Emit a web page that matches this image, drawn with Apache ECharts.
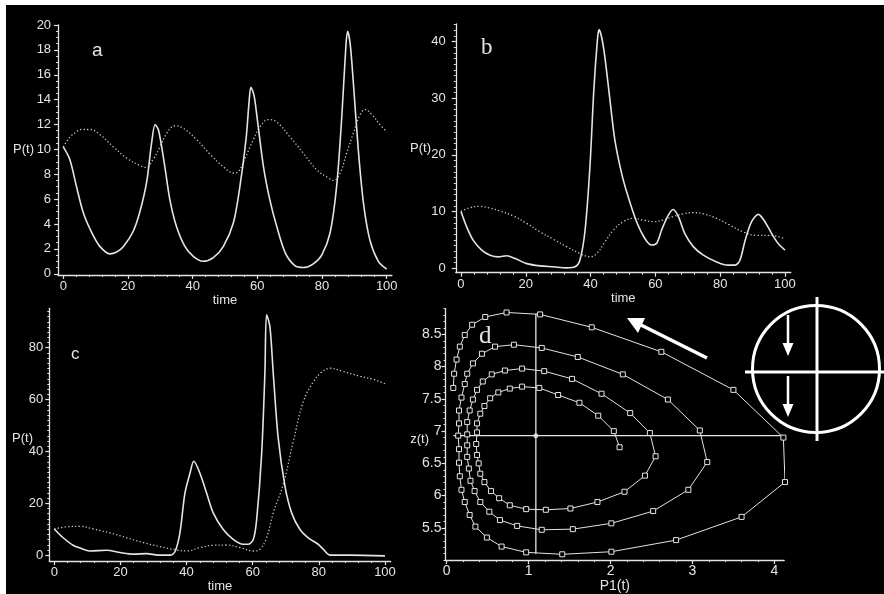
<!DOCTYPE html>
<html>
<head>
<meta charset="utf-8">
<script src="https://cdn.jsdelivr.net/npm/echarts@6/dist/echarts.min.js"></script>
<style>
html,body{margin:0;padding:0;background:#000;}
#chart{width:884px;height:594px;}
</style>
</head>
<body>
<div id="chart"></div>
<script>
// ---------- DATA ----------
// Panel a : P(t) vs time
const aSolid = [[0,10.2],[2,9.2],[4.1,7.0],[6.2,4.9],[8.8,3.3],[11.3,2.2],[14.4,1.6],[16.5,1.75],[18.6,2.2],[21.6,3.4],[23.7,5.0],[25.8,7.4],[27.3,10.5],[28.4,12.0],[29.5,11.5],[31.4,8.6],[33,5.9],[35,3.8],[37.6,2.2],[40.2,1.4],[43.1,1.0],[46.4,1.3],[49.5,2.2],[52.6,4.1],[54.6,7.0],[56.5,10.8],[57.5,14.0],[58.0,15.0],[59,14.3],[60,12.4],[61.9,8.6],[63.9,5.9],[66,3.8],[68.6,1.7],[71.6,0.65],[74.2,0.5],[77.3,0.8],[79.9,1.5],[82.5,3.3],[84.5,7.0],[86.1,12.6],[87.4,18.4],[87.9,19.5],[88.7,18.5],[89.7,15.3],[91.2,10.0],[92.8,5.7],[94.8,2.7],[97.4,1.0],[100,0.37]];
const aDotted = [[0,10.2],[2.1,11.0],[4,11.4],[5.7,11.6],[8.2,11.6],[11.3,11.2],[15.5,10.2],[19.6,9.3],[23.7,8.7],[25.5,8.55],[27.8,9.2],[29.9,10.2],[32,11.3],[34.5,11.9],[37.1,11.7],[41.2,10.8],[45.4,9.6],[49.5,8.6],[52.6,8.1],[54.1,8.2],[56.2,9.3],[58.8,10.8],[60.8,11.8],[63.4,12.4],[66,12.2],[70.1,11.0],[74.2,9.7],[78.4,8.35],[82,7.7],[83.5,7.5],[85.6,8.1],[87.6,9.7],[89.7,11.3],[91.8,12.8],[93.3,13.2],[95.4,12.8],[97.9,12.0],[100,11.4]];
// Panel b
const bSolid = [[0,10.0],[1.75,7.3],[3.8,4.9],[6.4,3.2],[9,2.3],[11.5,2.0],[14.1,2.2],[16.7,1.7],[20.3,0.8],[24.4,0.4],[28.5,0.24],[32.6,0.06],[35.2,0.24],[36.7,1.4],[38.3,6.7],[39.8,17.9],[41,31.4],[42.1,40.2],[42.6,42.1],[43.4,40.8],[44.4,37.3],[46,29.6],[47.5,22.6],[49.6,16.7],[51.6,12.6],[54.2,8.2],[56.8,5.2],[58.8,4.1],[60.4,4.4],[61.9,6.7],[64,9.35],[65.5,10.35],[67.1,9.1],[69.1,6.1],[71.7,3.8],[74.8,2.3],[78.9,1.1],[82.5,0.53],[84.6,0.53],[86.1,1.4],[87.7,4.9],[89.7,8.2],[91.8,9.5],[93.8,8.2],[95.9,6.1],[97.9,4.35],[100,3.2]];
const bDotted = [[0,10.0],[2.8,10.7],[5.9,10.9],[9,10.6],[12,10.1],[16.2,9.2],[20.3,7.9],[24.4,6.4],[28.5,5.1],[32.6,3.8],[36.7,2.6],[39.8,2.0],[41.9,2.6],[44.4,4.6],[47,6.7],[50.1,8.2],[53.2,8.8],[56.3,8.5],[59.4,8.2],[62.4,8.5],[65.5,9.1],[68.6,9.6],[71.7,9.8],[74.8,9.6],[78.9,8.8],[83,7.6],[87.1,6.4],[91.3,5.8],[95.4,5.8],[100,5.2]];
// Panel c
const cSolid = [[0,10.1],[2.7,6.7],[5.7,3.8],[8.8,2.3],[10.8,1.6],[15.8,1.9],[19.9,1.0],[23.9,0.4],[27.9,0.6],[31.5,0],[35,0],[36.5,1.3],[38,8.6],[39.5,23.8],[41,31.4],[42.2,36.2],[44.1,31.4],[46.1,23.8],[48.1,16.2],[51.1,9.9],[54.1,6.1],[57.1,4.2],[58.7,4.2],[60.2,6.1],[61.2,13.7],[62.7,38.9],[63.7,70.5],[64.2,92.7],[65.2,88.2],[66.2,70.5],[67.7,45.3],[69.8,26.3],[71.8,16.2],[74.3,9.9],[76.8,6.7],[79.8,4.2],[81.3,2.3],[83.4,0],[89.4,0],[100,-0.3]];
const cDotted = [[0,10.1],[3.7,10.9],[7.8,11.1],[11.8,10.1],[16.8,8.6],[21.9,6.7],[27,4.8],[32,3.3],[37,2.0],[40,1.6],[44.1,2.9],[48.1,3.8],[52.1,3.9],[56.2,2.9],[60.2,1.6],[62.2,2.3],[64.2,6.7],[66.2,16.2],[69.3,27.6],[72.3,44],[75.3,59.2],[78.3,66.8],[80.8,70.5],[83.4,72.1],[87.4,70.8],[92.4,69],[96.5,67.8],[100,66.1]];
// Panel d : phase portrait z(t) vs P1(t)
const dLoop1 = [[2.11,6.75],[2.04,7.00],[1.85,7.24],[1.62,7.44],[1.36,7.56],[1.13,7.67],[0.92,7.69],[0.77,7.66],[0.63,7.60],[0.53,7.51],[0.46,7.39],[0.41,7.27],[0.37,7.12],[0.37,6.98],[0.36,6.80],[0.37,6.63],[0.39,6.50],[0.41,6.34],[0.46,6.21],[0.54,6.07],[0.64,5.96],[0.77,5.85],[0.97,5.79],[1.21,5.78],[1.51,5.80],[1.84,5.90],[2.17,6.06],[2.42,6.31],[2.55,6.61],[2.48,6.97]];
const dLoop2 = [[2.24,7.28],[1.89,7.58],[1.53,7.81],[1.19,7.93],[0.92,7.97],[0.71,7.94],[0.55,7.88],[0.44,7.77],[0.37,7.64],[0.32,7.49],[0.28,7.32],[0.25,7.14],[0.25,6.95],[0.25,6.78],[0.25,6.60],[0.27,6.42],[0.29,6.23],[0.34,6.07],[0.41,5.90],[0.52,5.75],[0.65,5.62],[0.86,5.53],[1.16,5.47],[1.54,5.48],[2.01,5.57],[2.52,5.76],[2.95,6.09],[3.18,6.52],[3.09,7.01]];
const dLoop3 = [[2.70,7.49],[2.15,7.88],[1.60,8.15],[1.16,8.29],[0.82,8.34],[0.59,8.31],[0.43,8.20],[0.32,8.05],[0.25,7.89],[0.22,7.73],[0.18,7.52],[0.15,7.32],[0.15,7.12],[0.14,6.93],[0.15,6.72],[0.15,6.51],[0.16,6.30],[0.18,6.09],[0.22,5.90],[0.28,5.70],[0.35,5.52],[0.49,5.35],[0.67,5.21],[0.97,5.12],[1.41,5.09],[2.01,5.13],[2.80,5.31],[3.60,5.67],[4.13,6.21],[4.11,6.90]];
const dLoop4 = [[3.50,7.64],[2.62,8.23],[1.77,8.61],[1.14,8.81],[0.73,8.84],[0.47,8.77],[0.31,8.65],[0.22,8.49],[0.16,8.31],[0.12,8.11],[0.09,7.89],[0.08,7.67]];
const dCrossH = [[0.08,6.93],[4.11,6.93]];
const dCrossV = [[1.088,5.1],[1.088,8.82]];
const dCenter = [[1.088,6.93]];

// tick labels
const aXLabels = [0,20,40,60,80,100];
const aYLabels = [0,2,4,6,8,10,12,14,16,18,20];
const bXLabels = [0,20,40,60,80,100];
const bYLabels = [0,10,20,30,40];
const cXLabels = [0,20,40,60,80,100];
const cYLabels = [0,20,40,60,80];
const dXLabels = [0,1,2,3,4];
const dYLabels = [5.5,6,6.5,7,7.5,8,8.5];

// ---------- STYLE / LAYOUT ----------
const FG = '#e4e4e4';
const DOT = '#c4c4c4';
const FONT = 'Liberation Sans';

function steps(from, to, step){
  const r=[]; for(let i=0;;i++){ const v=+(from+i*step).toFixed(4); if(v>to+1e-9) break; r.push(v);} return r;
}
function axisPair(dim, gi, min, max, labels, minorFrom, minorTo, minorStep, margin, fs){
  const base = {type:'value', gridIndex:gi, min:min, max:max, scale:true,
    position: dim==='x'?'bottom':'left', splitLine:{show:false}};
  const main = Object.assign({}, base, {
    axisLine:{show:true, onZero:false, lineStyle:{color:FG, width:1.3}},
    axisTick:{show:true, customValues:labels, length:4, lineStyle:{color:FG, width:1.2}},
    axisLabel:{show:true, customValues:labels, margin:margin, color:FG, fontSize:fs, fontFamily:FONT}
  });
  const minor = Object.assign({}, base, {
    axisLine:{show:false, onZero:false},
    axisTick:{show:true, customValues:steps(minorFrom, minorTo, minorStep), length:2, lineStyle:{color:FG, width:1}},
    axisLabel:{show:false}
  });
  return [main, minor];
}

const grids = [
  {left:58.1, top:25, width:333.8, height:250},
  {left:455.8, top:24, width:335, height:248.7},
  {left:49.3, top:308.3, width:341.3, height:257},
  {left:445.5, top:308.6, width:338.7, height:256.5}
];

const xAxes = [].concat(
  axisPair('x',0,-1.6,101.6,aXLabels,0,100,4,5,13),
  axisPair('x',1,-1.6,101.8,bXLabels,0,100,4,5,13),
  axisPair('x',2,-1.5,101.7,cXLabels,0,100,4,5,13),
  axisPair('x',3,-0.015,4.12,dXLabels,0,4.1,0.2,4,14)
);
const yAxes = [].concat(
  axisPair('y',0,-0.1,20,aYLabels,0,20,0.5,7,13),
  axisPair('y',1,-0.8,43.1,bYLabels,0,43,1,10,13),
  axisPair('y',2,-2.3,95.2,cYLabels,0,95,2,6,13),
  axisPair('y',3,5,8.9,dYLabels,5,8.9,0.1,4,14)
);
// x-axis names
const xNames = ['time','time','time','P1(t)'];
const xGaps = [10,11,11,13];
xNames.forEach((n,i)=>{
  xAxes[2*i].name = n; xAxes[2*i].nameLocation='middle'; xAxes[2*i].nameGap = xGaps[i];
  xAxes[2*i].nameTextStyle = {color:FG, fontSize:i===3?14:13, fontFamily:FONT};
});

function solid(data, gi){
  return {type:'line', xAxisIndex:2*gi, yAxisIndex:2*gi, data:data, showSymbol:false,
    smooth:0.3, lineStyle:{color:FG, width:1.6}, silent:true};
}
function dotted(data, gi){
  return {type:'line', xAxisIndex:2*gi, yAxisIndex:2*gi, data:data, showSymbol:false,
    smooth:0.4, lineStyle:{color:DOT, width:1.3, type:[1.3,2.2]}, silent:true};
}
const trajectory = [].concat(dLoop1, dLoop2, dLoop3, dLoop4);

const series = [
  dotted(aDotted,0), solid(aSolid,0),
  dotted(bDotted,1), solid(bSolid,1),
  dotted(cDotted,2), solid(cSolid,2),
  {type:'line', xAxisIndex:6, yAxisIndex:6, data:dCrossH, showSymbol:false, lineStyle:{color:FG,width:1.3}, silent:true},
  {type:'line', xAxisIndex:6, yAxisIndex:6, data:dCrossV, showSymbol:false, lineStyle:{color:FG,width:1.3}, silent:true},
  {type:'scatter', xAxisIndex:6, yAxisIndex:6, data:dCenter, symbol:'circle', symbolSize:5, itemStyle:{color:FG}, silent:true},
  {type:'line', xAxisIndex:6, yAxisIndex:6, data:trajectory, symbol:'rect', symbolSize:5, showAllSymbol:true, clip:false,
    lineStyle:{color:FG,width:1}, itemStyle:{color:'#000', borderColor:FG, borderWidth:1}, silent:true}
];

// decorative annotations
function arrowDown(x, y1, y2){
  return [
    {type:'line', shape:{x1:x,y1:y1,x2:x,y2:y2-11}, style:{stroke:'#fff', lineWidth:2.5}},
    {type:'polygon', shape:{points:[[x-5.5,y2-13],[x+5.5,y2-13],[x,y2]]}, style:{fill:'#fff'}}
  ];
}
const graphics = [
  {type:'rect', shape:{x:0,y:0,width:884,height:5}, style:{fill:'#fff'}},
  {type:'rect', shape:{x:0,y:0,width:6,height:594}, style:{fill:'#fff'}},
  {type:'text', left:92, top:41, style:{text:'a', fill:FG, font:'19px "Liberation Sans"'}},
  {type:'text', left:481, top:36, style:{text:'b', fill:FG, font:'23px "Liberation Serif"'}},
  {type:'text', left:71, top:346, style:{text:'c', fill:FG, font:'17px "Liberation Sans"'}},
  {type:'text', left:479, top:324, style:{text:'d', fill:FG, font:'25px "Liberation Serif"'}},
  {type:'text', x:34, y:149, style:{text:'P(t)', fill:FG, font:'13px "Liberation Sans"', textAlign:'right', textVerticalAlign:'middle'}},
  {type:'text', x:431, y:148, style:{text:'P(t)', fill:FG, font:'13px "Liberation Sans"', textAlign:'right', textVerticalAlign:'middle'}},
  {type:'text', x:33, y:438, style:{text:'P(t)', fill:FG, font:'13px "Liberation Sans"', textAlign:'right', textVerticalAlign:'middle'}},
  {type:'text', x:429, y:439, style:{text:'z(t)', fill:FG, font:'13px "Liberation Sans"', textAlign:'right', textVerticalAlign:'middle'}},
  // circle diagram
  {type:'circle', shape:{cx:816, cy:369, r:63.5}, style:{stroke:'#fff', fill:null, lineWidth:3}},
  {type:'line', shape:{x1:817,y1:297,x2:817,y2:441}, style:{stroke:'#fff', lineWidth:3}},
  {type:'line', shape:{x1:745,y1:372,x2:884,y2:372}, style:{stroke:'#fff', lineWidth:3}},
  // big arrow
  {type:'line', shape:{x1:707,y1:358,x2:641,y2:325}, style:{stroke:'#fff', lineWidth:3.5}},
  {type:'polygon', shape:{points:[[627,318],[645,318],[638,333]]}, style:{fill:'#fff'}}
].concat(arrowDown(788,315,356), arrowDown(788,376,417));

const chart = echarts.init(document.getElementById('chart'), null, {renderer:'canvas'});
chart.setOption({
  backgroundColor:'#000',
  animation:false,
  grid: grids,
  xAxis: xAxes,
  yAxis: yAxes,
  series: series,
  graphic: graphics
});
</script>
</body>
</html>
